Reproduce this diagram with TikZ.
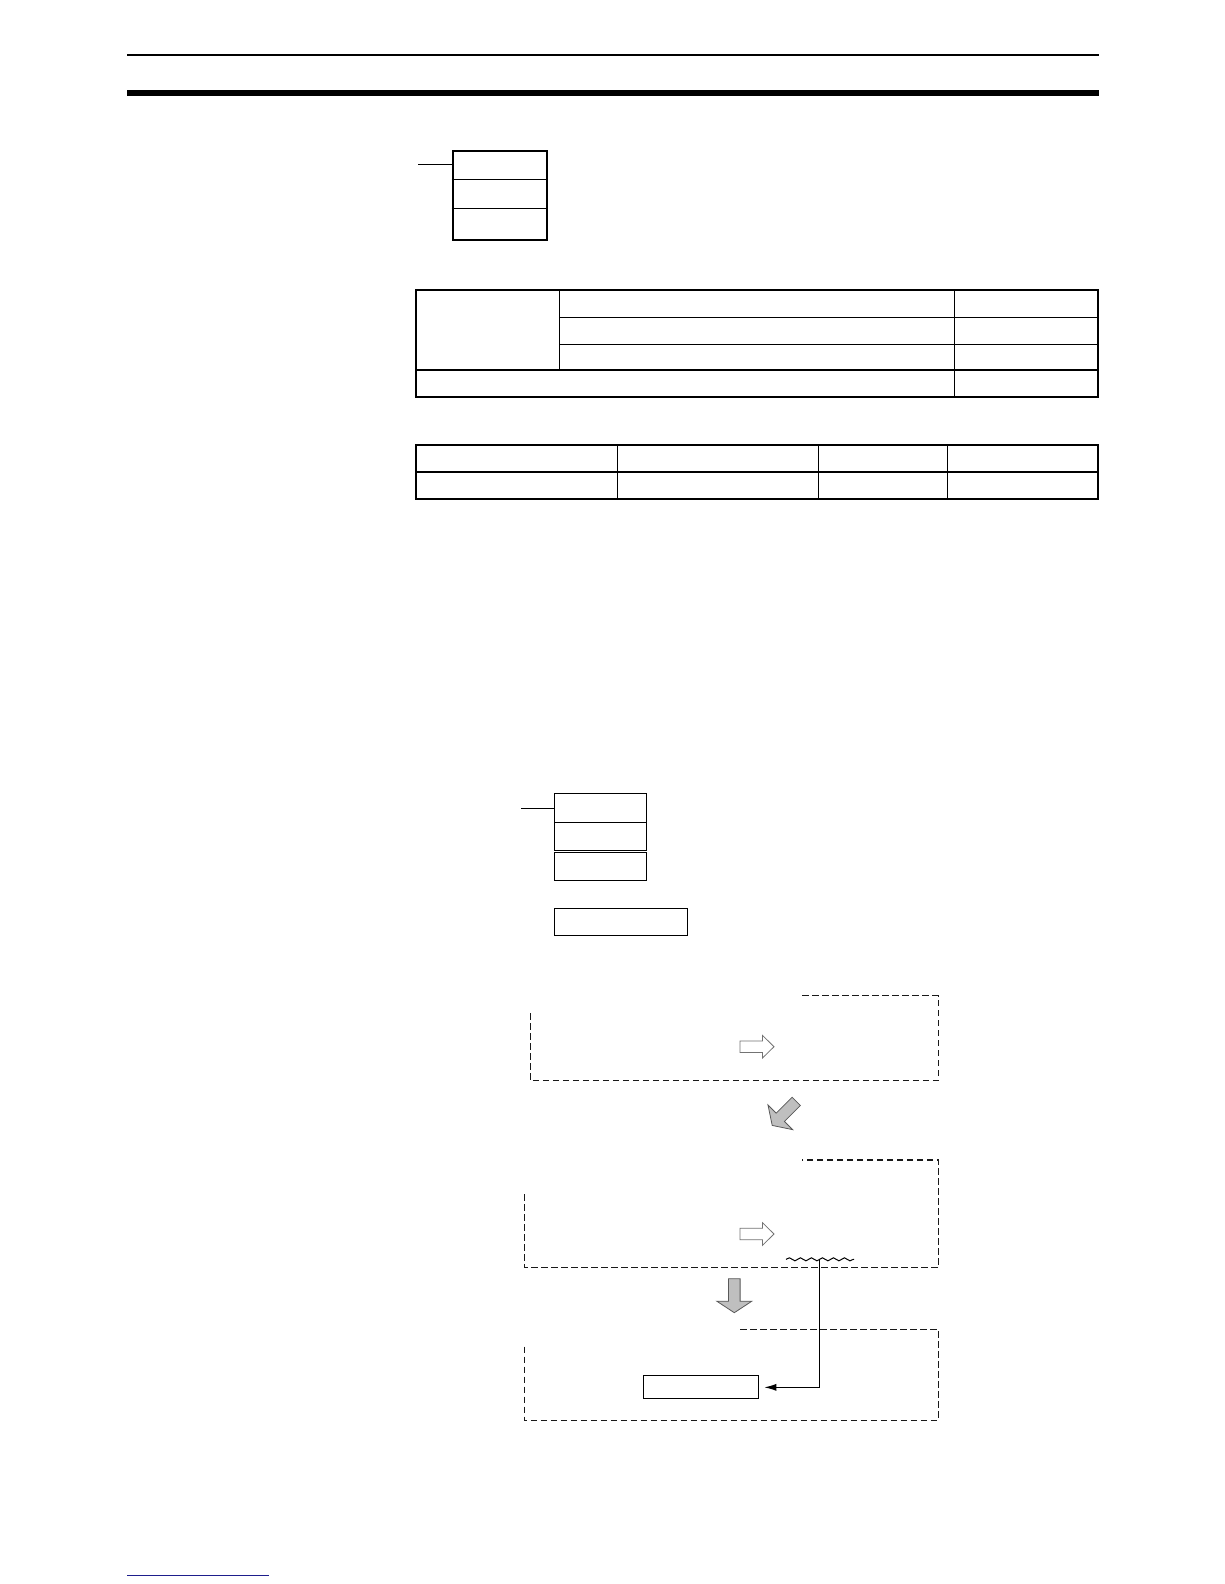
\documentclass[tikz,border=0pt]{standalone}
\usepackage{tikz}
\usetikzlibrary{calc,arrows.meta,decorations.pathmorphing}
\definecolor{footblue}{RGB}{30,30,140}
\def\blockarrow[#1](#2)(#3:#4){\filldraw[#1,shift={(#2)},rotate=#3] (0,0) -- (-11.5,#4) -- (-11.5,5.8) -- (-34,5.8) -- (-34,-5.8) -- (-11.5,-5.8) -- (-11.5,-#4) -- cycle;}
\tikzset{
	cell/.style={draw, rectangle, inner sep=0pt, anchor=north west, line width=1.1pt},
	tabline/.style={line width=1.2pt},
	tabframe/.style={line width=2pt},
	dashbox/.style={line width=1.5pt, dash pattern=on 6.5pt off 3.5pt, black!90},
	grayarrow/.style={fill=black!25, draw=black!65, line width=0.8pt},
	openarrow/.style={fill=white, draw=black!55, line width=0.8pt},
	link/.style={line width=1.1pt, -{Latex[length=12pt,width=7pt]}, shorten >=5.5pt}
}
\begin{document}
\begin{tikzpicture}[x=1pt,y=-1pt]
				\useasboundingbox (0,0) rectangle (1224,1584);
				
				\draw[line width=1.2pt] (127.3,55) -- (1099,55);
				\fill (127.3,90) rectangle (1099,95.8);
				
				\node[cell, line width=2pt, minimum width=94.3pt, minimum height=88.7pt] (ladder1) at (451.7,150) {};
				\draw[tabline] (451.7,179.3) -- (546,179.3);
				\draw[tabline] (451.7,208.3) -- (546,208.3);
				\coordinate (in1) at (418,164.3);
				\draw[line width=1.1pt] (in1) -- (in1 -| ladder1.west);
				
				\draw[tabframe] (415.7,290) rectangle (1098.3,397.3);
				\draw[tabline] (559.7,290) -- (559.7,370.3);
				\draw[tabline] (954.3,290) -- (954.3,397.3);
				\draw[tabline] (559.7,317.3) -- (1098.3,317.3);
				\draw[tabline] (559.7,344.3) -- (1098.3,344.3);
				\draw[tabframe] (415.7,370.3) -- (1098.3,370.3);
				
				\draw[tabframe] (415.7,445.3) rectangle (1098.3,499);
				\draw[tabframe] (415.7,472) -- (1098.3,472);
				\draw[tabline] (617.3,445.3) -- (617.3,499);
				\draw[tabline] (818.3,445.3) -- (818.3,499);
				\draw[tabline] (947.3,445.3) -- (947.3,499);
				
				\node[cell, minimum width=91.4pt, minimum height=29pt] (ladder2a) at (554.3,793.3) {};
				\node[cell, minimum width=91.4pt, minimum height=28pt] (ladder2b) at (554.3,822.3) {};
				\node[cell, minimum width=91.4pt, minimum height=28.6pt] (ladder2c) at (554.3,851.7) {};
				\coordinate (in2) at (521,808.3);
				\draw[line width=1.1pt] (in2) -- (in2 -| ladder2a.west);
				\node[cell, minimum width=132.4pt, minimum height=27pt] (word) at (554.3,908.3) {};
				
				\draw[dashbox] (530.3,1013.3) -- (530.3,1080.7) -- (938.3,1080.7) -- (938.3,995.7) -- (801.7,995.7);
				\blockarrow[openarrow](774,1046.7)(0:11.3)
				
				\blockarrow[grayarrow](772.2,1125.4)(-135:17.5)
				
				\draw[dashbox] (524.5,1194.3) -- (524.5,1267.7) -- (938.3,1267.7) -- (938.3,1160) -- (801.7,1160);
				\blockarrow[openarrow](774,1234)(0:11.3)
				\draw[line width=1pt, decorate, decoration={snake, amplitude=1.5pt, segment length=11pt}] (786,1259.3) -- (854,1259.3);
				\coordinate (wave) at (819.3,1259.3);
				
				\blockarrow[grayarrow](734.3,1312.7)(-90:17.5)
				
				\draw[dashbox] (524.5,1346.7) -- (524.5,1420.3) -- (938.3,1420.3) -- (938.3,1329.3) -- (740,1329.3);
				\node[cell, minimum width=114.4pt, minimum height=23pt] (result) at (643.3,1375.3) {};
				\draw[link] (wave) |- (result.east);
				
				\draw[footblue, line width=1pt] (127,1575) -- (269,1575);
			\end{tikzpicture}
\end{document}
